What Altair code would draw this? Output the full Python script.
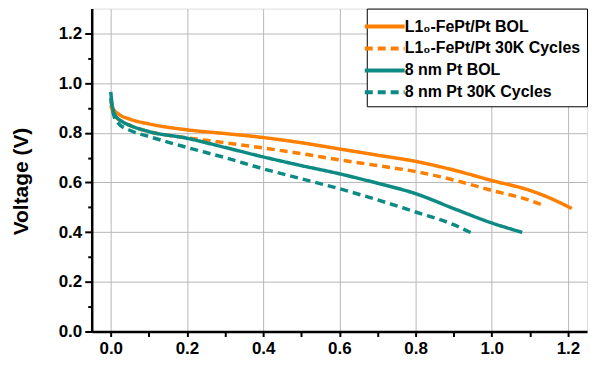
import altair as alt
import pandas as pd

series_names = [
    "L1₀-FePt/Pt BOL",
    "L1₀-FePt/Pt 30K Cycles",
    "8 nm Pt BOL",
    "8 nm Pt 30K Cycles",
]

fept_bol_x = [0.0, 0.005, 0.02, 0.05, 0.1, 0.2, 0.3, 0.4, 0.5, 0.6, 0.7, 0.8, 0.9, 1.0, 1.1, 1.15, 1.21]
fept_bol_y = [0.93, 0.90, 0.876, 0.855, 0.836, 0.812, 0.797, 0.781, 0.76, 0.735, 0.71, 0.685, 0.65, 0.608, 0.568, 0.539, 0.495]

fept_30k_x = [0.0, 0.01, 0.03, 0.05, 0.1, 0.2, 0.3, 0.4, 0.5, 0.6, 0.7, 0.8, 0.9, 1.0, 1.1, 1.14]
fept_30k_y = [0.91, 0.87, 0.845, 0.83, 0.805, 0.78, 0.76, 0.739, 0.716, 0.691, 0.668, 0.644, 0.61, 0.568, 0.528, 0.505]

pt_bol_x = [0.0, 0.003, 0.01, 0.03, 0.05, 0.1, 0.2, 0.3, 0.4, 0.5, 0.6, 0.7, 0.8, 0.9, 1.0, 1.08]
pt_bol_y = [0.965, 0.92, 0.875, 0.845, 0.83, 0.805, 0.778, 0.741, 0.703, 0.668, 0.635, 0.597, 0.555, 0.495, 0.437, 0.399]

pt_30k_x = [0.0, 0.005, 0.01, 0.02, 0.05, 0.1, 0.2, 0.3, 0.4, 0.5, 0.6, 0.7, 0.8, 0.9, 0.945]
pt_30k_y = [0.94, 0.89, 0.86, 0.838, 0.81, 0.785, 0.741, 0.70, 0.655, 0.615, 0.575, 0.53, 0.481, 0.43, 0.398]

x_tick_values = [round(i * 0.1, 1) for i in range(0, 13)]
y_tick_values = [round(i * 0.1, 1) for i in range(0, 13)]

colors = ["#FF7F00", "#FF7F00", "#0E8A84", "#0E8A84"]
dashes = [[1, 0], [8, 5], [1, 0], [8, 5]]

rows = []
for name, xs, ys in zip(
    series_names,
    [fept_bol_x, fept_30k_x, pt_bol_x, pt_30k_x],
    [fept_bol_y, fept_30k_y, pt_bol_y, pt_30k_y],
):
    for i, (x, y) in enumerate(zip(xs, ys)):
        rows.append({"series": name, "x": x, "y": y, "order": i})
df = pd.DataFrame(rows)

font = "Liberation Sans"
major_test = "abs(round(datum.value*10) % 2) < 0.5"

x_axis = alt.Axis(
    values=x_tick_values,
    format=".1f",
    labelExpr=f"({major_test}) ? datum.label : ''",
    title=None,
    labelFont=font,
    labelFontSize=17,
    labelFontWeight="bold",
    labelColor="black",
    labelPadding=4,
    domainColor="black",
    domainWidth=2.5,
    tickColor="black",
    tickWidth=2,
    tickSize=5,
    grid=True,
    gridColor="#B8B8B8",
    gridWidth=1,
    gridOpacity={"condition": {"test": major_test, "value": 1}, "value": 0},
)

y_axis = alt.Axis(
    values=y_tick_values,
    format=".1f",
    labelExpr=f"({major_test}) ? datum.label : ''",
    title="Voltage (V)",
    titleFont=font,
    titleFontSize=21,
    titleFontWeight="bold",
    titleColor="black",
    titlePadding=27,
    titleY=173,
    labelFont=font,
    labelFontSize=17,
    labelFontWeight="bold",
    labelColor="black",
    labelPadding=3,
    domainColor="black",
    domainWidth=2.5,
    tickColor="black",
    tickWidth=2,
    tickSize={"condition": {"test": major_test, "value": 7}, "value": 4},
    grid=True,
    gridColor="#B8B8B8",
    gridWidth=1,
    gridOpacity={"condition": {"test": major_test, "value": 1}, "value": 0},
)

legend = alt.Legend(
    title=None,
    orient="top-right",
    offset=0,
    fillColor="white",
    strokeColor="black",
    padding=6,
    rowPadding=2,
    symbolType="M-2,0L2,0",
    symbolSize=400,
    symbolStrokeWidth=4,
    labelFont=font,
    labelFontSize=16,
    labelFontWeight="bold",
    labelColor="black",
    labelOffset=8,
    labelLimit=300,
)

chart = (
    alt.Chart(df)
    .mark_line(strokeWidth=3.5, strokeCap="butt", interpolate="monotone")
    .encode(
        x=alt.X("x:Q", scale=alt.Scale(domain=[-0.05, 1.25], nice=False, zero=False), axis=x_axis),
        y=alt.Y("y:Q", scale=alt.Scale(domain=[0, 1.3], nice=False), axis=y_axis),
        color=alt.Color("series:N", scale=alt.Scale(domain=series_names, range=colors), legend=legend),
        strokeDash=alt.StrokeDash("series:N", scale=alt.Scale(domain=series_names, range=dashes), legend=legend),
        order="order:Q",
    )
    .properties(
        width=497,
        height=324,
        autosize=alt.AutoSizeParams(type="none"),
        padding={"left": 84, "top": 0, "right": 5, "bottom": 30},
    )
    .configure_view(stroke="black", strokeWidth=2.5)
    .configure(background="white")
)

chart.save("out.html", embed_options={"renderer": "svg", "actions": False})
